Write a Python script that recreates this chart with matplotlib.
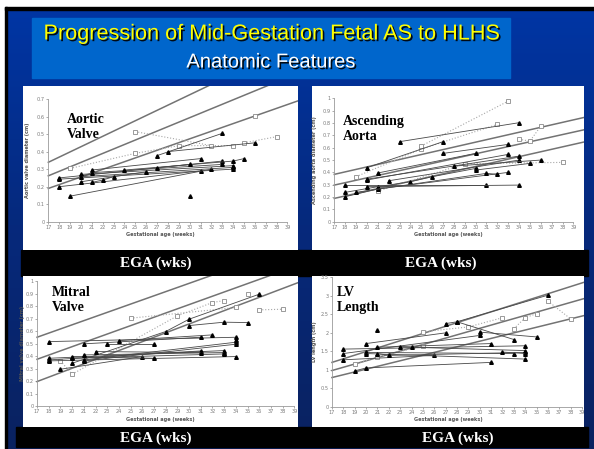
import numpy as np
import matplotlib
matplotlib.use('Agg')
import matplotlib.pyplot as plt
from matplotlib.patches import Rectangle
from matplotlib.colors import LinearSegmentedColormap
import matplotlib.patheffects as pe

# ---- data (week, value) ----
weeks = list(range(17, 40))

# Aortic valve diameter (cm)
av_fit_17 = [0.339, 0.262, 0.190]
av_fit_40 = [1.020, 0.848, 0.690]
av_hlhs = [
    [(18, 0.243), (34, 0.300)],
    [(18, 0.250), (33, 0.346)],
    [(18, 0.200), (31, 0.290)],
    [(19, 0.146), (32, 0.300)],
    [(20, 0.270), (34, 0.320)],
    [(20, 0.257), (34, 0.310)],
    [(20, 0.228), (26, 0.285)],
    [(21, 0.295), (31, 0.360)],
    [(21, 0.280), (33, 0.327)],
    [(21, 0.224), (22, 0.238), (23, 0.257)],
    [(24, 0.295), (34, 0.346), (35, 0.360)],
    [(27, 0.377), (33, 0.504)],
    [(28, 0.400), (36, 0.450)],
    [(27, 0.308), (30, 0.327)],
    [(30, 0.146)],
]
av_bv = [
    [(19, 0.304), (25, 0.390), (29, 0.434), (34, 0.434)],
    [(25, 0.514), (32, 0.434)],
    [(35, 0.450), (38, 0.485)],
    [(36, 0.603)],
]

# Ascending aorta diameter (cm)
aa_fit_17 = [0.384, 0.297, 0.189]
aa_fit_40 = [0.846, 0.746, 0.647]
aa_hlhs = [
    [(18, 0.297), (31, 0.297)],
    [(18, 0.238), (21, 0.284), (24, 0.324), (26, 0.365), (30, 0.432)],
    [(18, 0.203), (21, 0.265), (33, 0.400)],
    [(19, 0.238), (31, 0.392), (32, 0.384)],
    [(20, 0.438), (27, 0.649)],
    [(20, 0.338), (33, 0.546)],
    [(20, 0.345), (34, 0.532)],
    [(20, 0.284), (34, 0.297)],
    [(21, 0.395), (30, 0.554)],
    [(22, 0.332), (34, 0.500)],
    [(23, 0.649), (34, 0.803)],
    [(27, 0.554), (33, 0.627)],
    [(28, 0.451), (36, 0.500)],
    [(30, 0.419), (35, 0.473)],
]
aa_bv = [
    [(19, 0.365), (25, 0.589), (32, 0.789)],
    [(21, 0.249), (29, 0.470), (38, 0.481)],
    [(25, 0.614), (33, 0.978)],
    [(34, 0.668), (35, 0.654), (36, 0.776)],
]

# Mitral valve diameter (cm)
mv_fit_17 = [0.552, 0.375, 0.196]
mv_fit_40 = [1.318, 1.152, 1.015]
mv_hlhs = [
    [(18, 0.517), (34, 0.552)],
    [(18, 0.383), (33, 0.445)],
    [(18, 0.370), (31, 0.442)],
    [(18, 0.362), (34, 0.397)],
    [(19, 0.295), (26, 0.397)],
    [(20, 0.397), (27, 0.383)],
    [(20, 0.343), (28, 0.598), (30, 0.697), (36, 0.898)],
    [(20, 0.383), (33, 0.418)],
    [(21, 0.499), (31, 0.552)],
    [(21, 0.410), (33, 0.429)],
    [(21, 0.370), (34, 0.512)],
    [(21, 0.362), (34, 0.496)],
    [(22, 0.437), (31, 0.429)],
    [(23, 0.499), (27, 0.499)],
    [(24, 0.525), (32, 0.571)],
    [(30, 0.646), (33, 0.673), (35, 0.670)],
    [(34, 0.531)],
]
mv_bv = [
    [(19, 0.362), (20, 0.255), (29, 0.724), (32, 0.831), (33, 0.847)],
    [(25, 0.705), (34, 0.791)],
    [(35, 0.900)],
    [(36, 0.772), (38, 0.777)],
]

# LV length (cm)
lv_fit_17 = [1.20, 0.98, 0.79]
lv_fit_40 = [3.45, 3.00, 2.53]
lv_hlhs = [
    [(18, 1.56), (34, 1.65)],
    [(18, 1.44), (30, 1.93)],
    [(18, 1.27), (26, 1.39)],
    [(19, 0.97), (20, 1.05), (31, 1.20)],
    [(20, 1.71), (27, 2.00)],
    [(20, 1.47), (33, 1.44)],
    [(20, 1.44), (34, 1.29)],
    [(21, 1.61), (31, 1.71)],
    [(21, 1.44), (22, 1.39), (34, 1.47)],
    [(23, 1.61), (24, 1.61), (34, 1.52)],
    [(27, 2.25), (28, 2.30), (36, 3.02)],
    [(28, 2.30), (33, 1.82)],
    [(30, 2.02), (35, 1.89)],
    [(32, 1.48), (34, 1.44)],
    [(21, 2.09)],
]
lv_bv = [
    [(19, 1.15), (21, 1.35), (25, 1.64)],
    [(25, 2.03), (29, 2.16), (32, 2.41)],
    [(33, 2.11), (34, 2.41), (35, 2.52)],
    [(36, 2.86), (38, 2.38)],
]

W, H = 594, 449
fig = plt.figure(figsize=(W / 100, H / 100), dpi=100)


def frac(x0, y0, x1, y1):
    return [x0 / W, 1 - y1 / H, (x1 - x0) / W, (y1 - y0) / H]


# slide background
bg = fig.add_axes([0, 0, 1, 1])
cm = LinearSegmentedColormap.from_list('slide', ['#0036a6', '#06297c', '#0a2260'])
bg.imshow(np.linspace(0, 1, 256).reshape(-1, 1), extent=[0, W, H, 0], cmap=cm, aspect='auto')
bg.set_xlim(0, W)
bg.set_ylim(H, 0)
bg.axis('off')
bg.add_patch(Rectangle((0, 0), W, 7, color='white'))
bg.add_patch(Rectangle((0, 0), 5, H, color='white'))
bg.add_patch(Rectangle((5, 7), W, 3, color='black'))
bg.add_patch(Rectangle((5, 7), 2, H, color='black'))
bg.add_patch(Rectangle((32, 18), 478, 60, color='#0066cc'))
bg.add_patch(Rectangle((21, 250), 567, 26, color='black'))
bg.add_patch(Rectangle((16, 427), 572, 20, color='black'))

shadow = [pe.withSimplePatchShadow(offset=(1.2, -1.2), shadow_rgbFace='black', alpha=0.9)]
bg.text(271, 34, 'Progression of Mid-Gestation Fetal AS to HLHS', color='#ffff00',
        fontsize=15.6, family='Liberation Sans', ha='center', va='center', path_effects=shadow)
bg.text(271, 62, 'Anatomic Features', color='white', fontsize=14.5,
        family='Liberation Sans', ha='center', va='center', path_effects=shadow)


def chart(rect, xlim, ylim, yticks, ylab, labx, fit17, fit40, hlhs, bv):
    ax = fig.add_axes(frac(*rect))
    ax.set_facecolor('white')
    ax.set_xlim(xlim)
    ax.set_ylim(ylim)
    for a, b in zip(fit17, fit40):
        ax.plot([17, 40], [a, b], color='#737373', lw=1.1, zorder=2)
    for p in bv:
        xs, ys = zip(*p)
        ax.plot(xs, ys, ls=':', color='#a8a8a8', lw=0.8, marker='s', ms=3.0,
                mfc='white', mec='#8a8a8a', mew=0.6, zorder=3)
    for p in hlhs:
        xs, ys = zip(*p)
        ax.plot(xs, ys, '-', color='#484848', lw=0.6, marker='^', ms=2.6,
                mfc='black', mec='black', zorder=4)
    for s in ['top', 'right']:
        ax.spines[s].set_visible(False)
    ax.spines['left'].set_position(('data', 17))
    ax.spines['left'].set_bounds(0, yticks[-1])
    ax.spines['bottom'].set_position(('data', 0))
    ax.spines['bottom'].set_bounds(17, 39)
    for s in ['left', 'bottom']:
        ax.spines[s].set_color('#9a9a9a')
        ax.spines[s].set_linewidth(0.6)
    ax.set_xticks(weeks)
    ax.set_yticks(yticks)
    ax.set_yticklabels(['%g' % t for t in yticks])
    ax.tick_params(labelsize=3.6, colors='#8a8a8a', labelcolor='#7a7a7a',
                   length=1.5, width=0.5, pad=1.0)
    ax.set_xlabel('Gestational age (weeks)', fontsize=3.6, fontweight='bold',
                  color='#555555', labelpad=1.5)
    ax.set_ylabel(ylab, fontsize=3.6, fontweight='bold', color='#555555')
    mid = (yticks[-1] / 2 - ylim[0]) / (ylim[1] - ylim[0])
    ax.yaxis.set_label_coords(labx, mid)
    return ax


chart((23, 86, 298, 250), (14.67, 39.97), (-0.161, 0.774),
      [0, 0.1, 0.2, 0.3, 0.4, 0.5, 0.6, 0.7], 'Aortic valve diameter (cm)', 0.025,
      av_fit_17, av_fit_40, av_hlhs, av_bv)
chart((312, 86, 584, 250), (14.95, 39.97), (-0.2295, 1.1006),
      [0, 0.1, 0.2, 0.3, 0.4, 0.5, 0.6, 0.7, 0.8, 0.9, 1], 'Ascending aorta diameter (cm)', 0.02,
      aa_fit_17, aa_fit_40, aa_hlhs, aa_bv)
chart((23, 276, 298, 427), (15.80, 39.31), (-0.169, 1.044),
      [0, 0.1, 0.2, 0.3, 0.4, 0.5, 0.6, 0.7, 0.8, 0.9, 1], 'Mitral valve diameter (cm)', 0.008,
      mv_fit_17, mv_fit_40, mv_hlhs, mv_bv)
chart((312, 276, 584, 427), (15.24, 39.18), (-0.55, 3.54),
      [0, 0.5, 1, 1.5, 2, 2.5, 3, 3.5], 'LV length (cm)', 0.02,
      lv_fit_17, lv_fit_40, lv_hlhs, lv_bv)

# panel names and band labels on top of everything
for x, y, s in [(67, 113, 'Aortic\nValve'), (343, 115, 'Ascending\nAorta'),
                (52, 286, 'Mitral\nValve'), (337, 286, 'LV\nLength')]:
    fig.text(x / W, 1 - y / H, s, fontsize=10, fontweight='bold', family='Liberation Serif',
             color='black', ha='left', va='top', linespacing=1.2)
for x, y in [(156, 263), (441, 263), (156, 438), (458, 438)]:
    fig.text(x / W, 1 - y / H, 'EGA (wks)', fontsize=11, fontweight='bold',
             family='Liberation Serif', color='white', ha='center', va='center')

fig.savefig('out.png', dpi=100)
